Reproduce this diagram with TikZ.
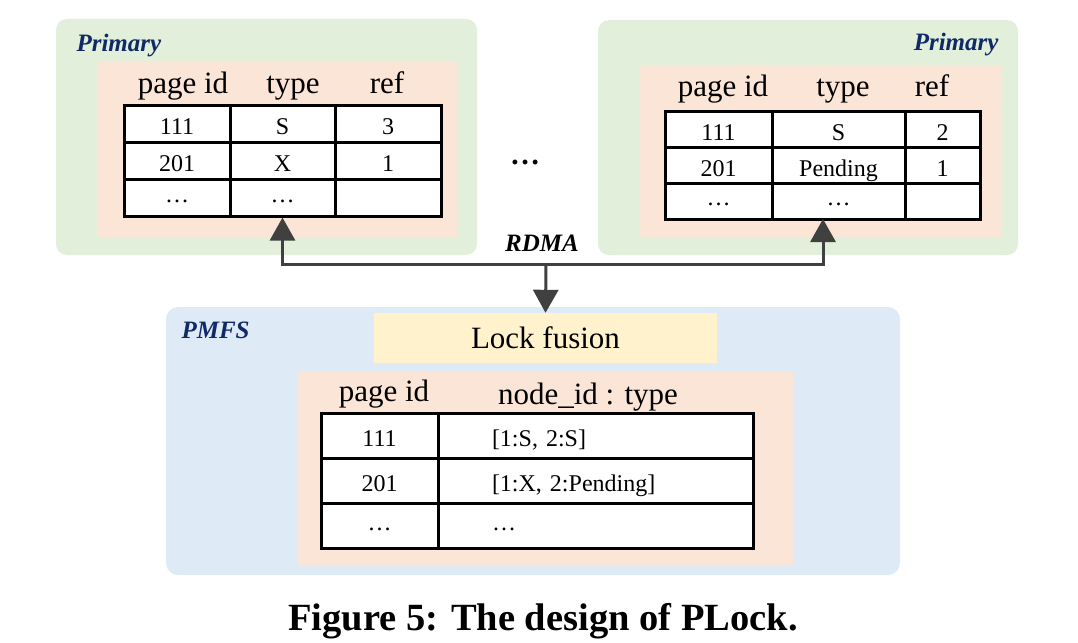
\documentclass[tikz,border=0pt]{standalone}
\usepackage{fontspec}
\setmainfont{Liberation Serif}
\usetikzlibrary{arrows.meta,positioning,calc}

\definecolor{panelgreen}{HTML}{E2EFDA}
\definecolor{panelpink}{HTML}{FBE5D6}
\definecolor{panelblue}{HTML}{DEEBF7}
\definecolor{panelyellow}{HTML}{FFF2CC}
\definecolor{labelblue}{HTML}{0F2A66}
\definecolor{linkgray}{HTML}{404040}

\newcommand{\gap}{\raisebox{6pt}{\dots}}

\tikzset{
  cell/.style={draw=black,line width=3pt,fill=white,inner sep=0pt,text height=21pt,text depth=0pt,
               font=\fontsize{24}{26}\selectfont},
  head/.style={anchor=base,font=\fontsize{31}{33}\selectfont},
  tag/.style={font=\fontsize{25}{27}\selectfont\bfseries\itshape,text=labelblue},
  link/.style={draw=linkgray,line width=3pt},
  >={Triangle[length=23pt,width=25pt]}
}

\begin{document}
\begin{tikzpicture}[x=1pt,y=-1pt]
  \useasboundingbox (0,0) rectangle (1078,642);
  % panels
  \fill[panelgreen,rounded corners=11pt] (56,19) rectangle (477,255);
  \fill[panelgreen,rounded corners=11pt] (598,20) rectangle (1018,255);
  \fill[panelblue,rounded corners=12pt] (166,307) rectangle (900,575);
  \fill[panelpink] (97,62) rectangle (457,237);
  \fill[panelpink] (640,65) rectangle (1002,237);
  \fill[panelpink] (298,372) rectangle (793,565);
  \node[tag,anchor=base west] (prim1) at (73,52) {Primary};
  \node[tag,anchor=base east] (prim2) at (1002,51) {Primary};
  \node[tag,anchor=base west] (pmfs) at (178,338) {PMFS};
  % left primary table
  \node[head] (lh1) at (183,93) {page id};
  \node[head] (lh2) at (293,93) {type};
  \node[head] (lh3) at (387,93) {ref};
  \foreach \r/\y/\a/\b/\c in {1/124.3/111/S/3, 2/161/201/X/1, 3/197.7/\gap/\gap/{}}{
    \node[cell,minimum width=106pt,minimum height=36.7pt] (l\r1) at (177,\y) {\a};
    \node[cell,minimum width=105pt,minimum height=36.7pt] (l\r2) at (282.5,\y) {\b};
    \node[cell,minimum width=106pt,minimum height=36.7pt] (l\r3) at (388,\y) {\c};
  }
  % right primary table
  \node[head] (rh1) at (723,96) {page id};
  \node[head] (rh2) at (843,96) {type};
  \node[head] (rh3) at (932,96) {ref};
  \foreach \r/\y/\a/\b/\c in {1/129.8/111/S/2, 2/165.5/201/Pending/1, 3/201.2/\gap/\gap/{}}{
    \node[cell,minimum width=107pt,minimum height=35.7pt] (r\r1) at (718.5,\y) {\a};
    \node[cell,minimum width=133pt,minimum height=35.7pt] (r\r2) at (838.5,\y) {\b};
    \node[cell,minimum width=75pt,minimum height=35.7pt] (r\r3) at (942.5,\y) {\c};
  }
  \node[font=\fontsize{30}{32}\selectfont\bfseries] (more) at (525,162) {\dots};
  % PMFS
  \node[fill=panelyellow,minimum width=343pt,minimum height=50pt,inner sep=0pt,
        font=\fontsize{31}{33}\selectfont] (fuse) at (545.5,338) {Lock fusion};
  \node[head] (ph1) at (384,401) {page id};
  \node[head] (ph2) at (588,404) {node\_id : type};
  \foreach \r/\y/\a/\b in {1/435.5/111/{[1:S, 2:S]}, 2/480.5/201/{[1:X, 2:Pending]}, 3/525.5/\gap/\gap}{
    \node[cell,minimum width=117pt,minimum height=45pt] (p\r1) at (379.5,\y) {\a};
    \node[cell,minimum width=315pt,minimum height=45pt,text width=207pt,align=left] (p\r2) at (595.5,\y) {\b};
  }
  % RDMA links
  \coordinate (hub) at (546,264);
  \coordinate (rtip) at (823,219);
  \node[tag,text=black] (rdma) at (542,243) {RDMA};
  \draw[link,<->] (l32.south) |- (hub) -| (rtip);
  \draw[link,->] (hub) -- (fuse.north);
  % caption
  \node[anchor=base,font=\fontsize{38.5}{40}\selectfont\bfseries] (cap) at (543,630) {Figure 5: The design of PLock.};
\end{tikzpicture}
\end{document}
